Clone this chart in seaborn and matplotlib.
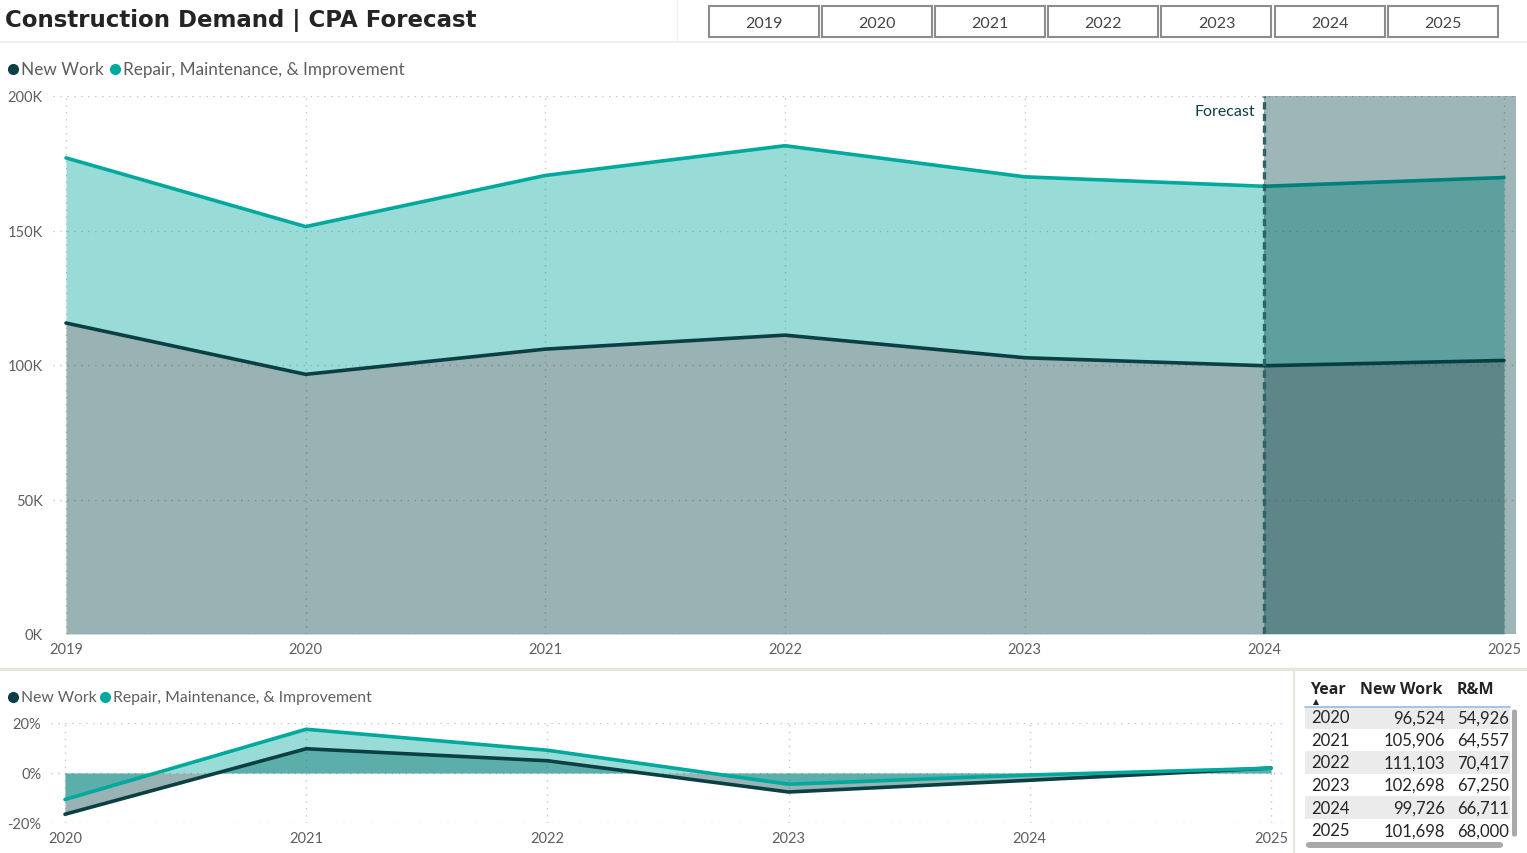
import matplotlib
matplotlib.use("Agg")
import matplotlib.pyplot as plt
import seaborn as sns
import pandas as pd
from matplotlib.patches import Rectangle, FancyBboxPatch
from matplotlib.lines import Line2D

# ---------------- data ----------------
years = [2019, 2020, 2021, 2022, 2023, 2024, 2025]
new_work = [115600, 96524, 105906, 111103, 102698, 99726, 101698]
rmi = [61400, 54926, 64557, 70417, 67250, 66711, 68000]

growth_years = [2020, 2021, 2022, 2023, 2024, 2025]
new_work_growth = [-0.165, 0.097, 0.049, -0.076, -0.029, 0.020]
rmi_growth = [-0.106, 0.175, 0.091, -0.045, -0.008, 0.019]

series_names = ["New Work", "Repair, Maintenance, & Improvement"]
slicer_labels = ["2019", "2020", "2021", "2022", "2023", "2024", "2025"]
forecast_start = 2024
forecast_label = "Forecast"

top_yticks = [0, 50000, 100000, 150000, 200000]
top_yticklabels = ["0K", "50K", "100K", "150K", "200K"]
bot_yticks = [-0.2, 0.0, 0.2]
bot_yticklabels = ["-20%", "0%", "20%"]

table_headers = ["Year", "New Work", "R&M"]
table_years = [2020, 2021, 2022, 2023, 2024, 2025]
table_new_work = [96524, 105906, 111103, 102698, 99726, 101698]
table_rm = [54926, 64557, 70417, 67250, 66711, 68000]

title = "Construction Demand | CPA Forecast"

# ---------------- style ----------------
sns.set_theme(style="white")
plt.rcParams["font.family"] = ["Lato", "DejaVu Sans"]

NW_LINE = "#0a4044"
RM_LINE = "#00a99d"
NW_FILL = "#003f42"
RM_FILL = "#00a99d"
TICK_C = "#605e5c"
TEXT_C = "#252423"
GRID_C = "#c6c6c6"

W, H = 1527, 854
fig = plt.figure(figsize=(W / 100, H / 100), dpi=100)
fig.patch.set_facecolor("white")


def fx(x):
    return x / W


def fy(y):
    return 1 - y / H


def ftext(x, y, s, **kw):
    fig.text(fx(x), fy(y), s, **kw)


# ---------------- header ----------------
ftext(5, 21, title, fontsize=16.5, fontweight="bold", color=TEXT_C, va="center", ha="left",
      family=["DejaVu Sans"])
fig.add_artist(Line2D([0, 1], [fy(43), fy(43)], color="#ececec", lw=1.2, transform=fig.transFigure))
fig.add_artist(Line2D([fx(677), fx(677)], [fy(0), fy(43)], color="#f0f0f0", lw=1.0, transform=fig.transFigure))

x0, bw, step = 709, 110, 113.1
for i, lab in enumerate(slicer_labels):
    left = x0 + i * step
    fig.add_artist(Rectangle((fx(left), fy(38)), fx(bw), 31 / H, transform=fig.transFigure,
                             facecolor="white", edgecolor="#8c8c8c", lw=1.5))
    ftext(left + bw / 2, 23.5, lab, fontsize=11.5, color="#444444", ha="center", va="center")

# separator between sections
fig.add_artist(Line2D([0, 1], [fy(670), fy(670)], color="#e6e6e0", lw=2.5, transform=fig.transFigure))
fig.add_artist(Line2D([fx(1294), fx(1294)], [fy(671), fy(854)], color="#e6e6e0", lw=1.5, transform=fig.transFigure))


def legend_row(y, x_dot1, x_dot2, size):
    for xd, name, col in [(x_dot1, series_names[0], NW_LINE), (x_dot2, series_names[1], RM_LINE)]:
        fig.add_artist(Line2D([fx(xd)], [fy(y)], marker="o", markersize=8, color=col,
                              markeredgewidth=0, transform=fig.transFigure))
        ftext(xd + 8, y, name, fontsize=size, color=TICK_C, ha="left", va="center")


legend_row(70, 13, 115, 12.3)
legend_row(698, 13, 105, 11.3)

# ---------------- top chart ----------------
ax = fig.add_axes([fx(53), fy(635), (1516 - 53) / W, (635 - 97) / H])
total = [a + b for a, b in zip(new_work, rmi)]
ax.fill_between(years, 0, new_work, color=NW_FILL, alpha=0.4, lw=0, zorder=2)
ax.fill_between(years, new_work, total, color=RM_FILL, alpha=0.4, lw=0, zorder=2)
df_top = pd.DataFrame({"Year": years, "total": total, "nw": new_work})
sns.lineplot(data=df_top, x="Year", y="total", color=RM_LINE, lw=2.6, ax=ax, zorder=3)
sns.lineplot(data=df_top, x="Year", y="nw", color=NW_LINE, lw=2.6, ax=ax, zorder=3)
ax.set_xlim(2019 - 13 / 239.67, 2025 + 12 / 239.67)
ax.set_ylim(0, 200000)
ax.axvspan(forecast_start, ax.get_xlim()[1], color=NW_FILL, alpha=0.38, lw=0, zorder=4)
ax.axvline(forecast_start, color="#2e6467", lw=2.4, ls=(0, (2.2, 1.3)), zorder=5)
ax.text(forecast_start - 0.04, 194300, forecast_label, fontsize=11.5, color=NW_LINE,
        ha="right", va="center", zorder=6)
ax.set_xticks(years)
ax.set_xticklabels([str(y) for y in years])
ax.set_yticks(top_yticks)
ax.set_yticklabels(top_yticklabels)
ax.set_xlabel("")
ax.set_ylabel("")
ax.grid(True, ls=(0, (1, 4)), color=GRID_C, lw=1.0, zorder=0)
ax.set_axisbelow(True)
for s in ax.spines.values():
    s.set_visible(False)
ax.tick_params(axis="both", length=0, labelsize=10.5, labelcolor=TICK_C)
ax.tick_params(axis="y", pad=7.5)
ax.tick_params(axis="x", pad=6)
ax.set_facecolor("none")

# ---------------- bottom chart ----------------
bx = fig.add_axes([fx(51), fy(824), (1285 - 51) / W, 100 / H])
bx.fill_between(growth_years, 0, new_work_growth, color=NW_FILL, alpha=0.4, lw=0, zorder=2)
bx.fill_between(growth_years, 0, rmi_growth, color=RM_FILL, alpha=0.4, lw=0, zorder=2)
df_bot = pd.DataFrame({"Year": growth_years, "nw": new_work_growth, "rm": rmi_growth})
sns.lineplot(data=df_bot, x="Year", y="nw", color=NW_LINE, lw=2.6, ax=bx, zorder=3)
sns.lineplot(data=df_bot, x="Year", y="rm", color=RM_LINE, lw=2.6, ax=bx, zorder=3)
bx.set_xlim(2020 - 14 / 241.2, 2025 + 14 / 241.2)
bx.set_ylim(-0.2, 0.2)
bx.set_xticks(growth_years)
bx.set_xticklabels([str(y) for y in growth_years])
bx.set_yticks(bot_yticks)
bx.set_yticklabels(bot_yticklabels)
bx.set_xlabel("")
bx.set_ylabel("")
bx.grid(True, ls=(0, (1, 4)), color=GRID_C, lw=1.0, zorder=0)
bx.set_axisbelow(True)
for s in bx.spines.values():
    s.set_visible(False)
bx.tick_params(axis="both", length=0, labelsize=10.5, labelcolor=TICK_C)
bx.tick_params(axis="y", pad=7)
bx.tick_params(axis="x", pad=6)
bx.set_facecolor("none")

# ---------------- table ----------------
hdr_kw = dict(fontsize=11.5, fontweight="bold", color=TEXT_C, va="center",
              family=["Open Sans", "DejaVu Sans"])
ftext(1310, 690, table_headers[0], ha="left", **hdr_kw)
ftext(1443, 690, table_headers[1], ha="right", **hdr_kw)
ftext(1494, 690, table_headers[2], ha="right", **hdr_kw)
fig.add_artist(Line2D([fx(1316)], [fy(702.5)], marker="^", markersize=4.5, color=TEXT_C,
                      markeredgewidth=0, transform=fig.transFigure))
row_h = 22.6
row_top = 707
for i, (yr, a, b) in enumerate(zip(table_years, table_new_work, table_rm)):
    top = row_top + i * row_h
    if i % 2 == 0:
        fig.add_artist(Rectangle((fx(1305), fy(top + row_h)), fx(1510 - 1305), row_h / H,
                                 transform=fig.transFigure, facecolor="#ebebeb", lw=0))
    cy = top + row_h / 2
    ftext(1330, cy, str(yr), fontsize=12, color=TEXT_C, ha="center", va="center")
    ftext(1445, cy, f"{a:,}", fontsize=12, color=TEXT_C, ha="right", va="center")
    ftext(1509, cy, f"{b:,}", fontsize=12, color=TEXT_C, ha="right", va="center")
fig.add_artist(Line2D([fx(1305), fx(1510)], [fy(707.5), fy(707.5)], color="#9cc3e6", lw=1.3,
                      transform=fig.transFigure))
# scrollbars
fig.add_artist(FancyBboxPatch((fx(1512), fy(838)), fx(5), 128 / H,
                              boxstyle="round,pad=0,rounding_size=0.003",
                              transform=fig.transFigure, facecolor="#a9a9a9", lw=0))
fig.add_artist(FancyBboxPatch((fx(1306), fy(849)), fx(197), 6 / H,
                              boxstyle="round,pad=0,rounding_size=0.003",
                              transform=fig.transFigure, facecolor="#a9a9a9", lw=0))

fig.savefig("out.png", dpi=100)
